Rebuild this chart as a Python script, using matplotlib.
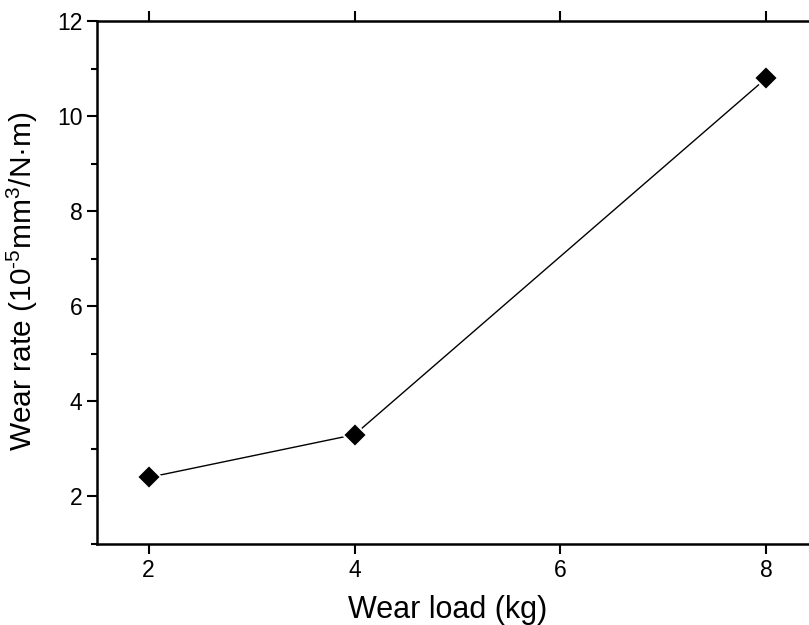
import matplotlib
matplotlib.use("Agg")
import matplotlib.pyplot as plt
from matplotlib.ticker import MultipleLocator

plt.rcParams['font.family'] = ['Liberation Sans', 'DejaVu Sans']
plt.rcParams['mathtext.fontset'] = 'custom'
plt.rcParams['mathtext.rm'] = 'Liberation Sans'

wear_load = [2, 4, 8]
wear_rate = [2.4, 3.3, 10.8]
x_ticks = [2, 4, 6, 8]
y_ticks = [2, 4, 6, 8, 10, 12]

fig = plt.figure(figsize=(8.09, 6.25), dpi=100)
ax = fig.add_axes([0.12, 0.1296, 0.891, 0.8368])

ax.plot(wear_load, wear_rate, color='black', lw=1.0, marker='D', markersize=12.5,
        markerfacecolor='black', markeredgecolor='white', markeredgewidth=1.5)

ax.set_xlim(1.5, 8.5)
ax.set_ylim(1, 12)
ax.set_xticks(x_ticks)
ax.set_yticks(y_ticks)
ax.yaxis.set_minor_locator(MultipleLocator(1))

for s in ax.spines.values():
    s.set_linewidth(1.8)

ax.tick_params(axis='both', which='major', direction='out', length=7, width=1.5,
               labelsize=16.5, top=True, right=True, labeltop=False, labelright=False)
ax.tick_params(axis='y', which='minor', direction='out', length=4, width=1.5, right=True)
ax.tick_params(axis='x', which='minor', bottom=False, top=False)

ax.set_xlabel('Wear load (kg)', fontsize=22)
ax.xaxis.set_label_coords(0.487, -0.098)
ax.set_ylabel('Wear rate (10$^{\\mathregular{\u20105}}$mm$^{\\mathregular{3}}$/N\u00b7m)', fontsize=21.5)
ax.yaxis.set_label_coords(-0.079, 0.502)

fig.savefig('out.png', dpi=100)
